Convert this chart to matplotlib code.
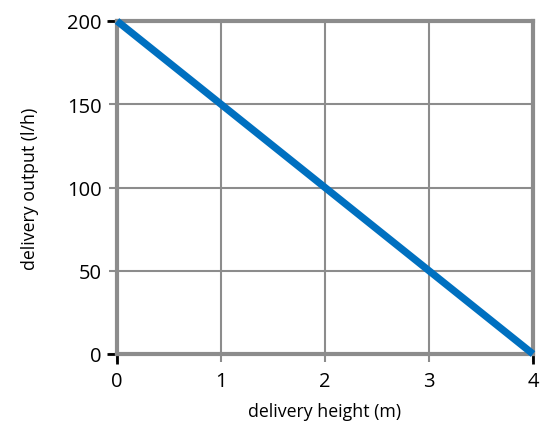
import matplotlib
matplotlib.use("Agg")
import matplotlib.pyplot as plt

height_m = [0, 4]
output_lh = [200, 0]
x_ticks = [0, 1, 2, 3, 4]
y_ticks = [0, 50, 100, 150, 200]

plt.rcParams['font.family'] = ['Open Sans', 'DejaVu Sans']

fig = plt.figure(figsize=(5.4, 4.27), dpi=100)
ax = fig.add_axes([117/540, 1-355/427, (533-117)/540, (355-22)/427])

ax.plot(height_m, output_lh, color='#0070C0', lw=5.2, solid_capstyle='butt', zorder=3, clip_on=False)

ax.set_xlim(0, 4)
ax.set_ylim(0, 200)
ax.set_xticks(x_ticks)
ax.set_yticks(y_ticks)
ax.grid(True, color='#8c8c8c', lw=1.5)
for s in ax.spines.values():
    s.set_color('#8c8c8c')
    s.set_linewidth(3)
ax.tick_params(axis='both', colors='#8c8c8c', length=6, width=1.5, labelsize=14.5, labelcolor='black')
ax.tick_params(axis='y', pad=5)
ax.tick_params(axis='x', pad=6)

# black end ticks
ax.xaxis.remove_overlapping_locs = False
ax.yaxis.remove_overlapping_locs = False
ax.set_xticks([x_ticks[0], x_ticks[-1]], minor=True)
ax.set_yticks([y_ticks[0], y_ticks[-1]], minor=True)
ax.tick_params(axis='both', which='minor', color='black', length=7, width=2)

ax.set_xlabel('delivery height (m)', fontsize=12.8, labelpad=8)
ax.set_ylabel('delivery output (l/h)', fontsize=12.8, labelpad=20)

fig.savefig('out.png', dpi=100)
